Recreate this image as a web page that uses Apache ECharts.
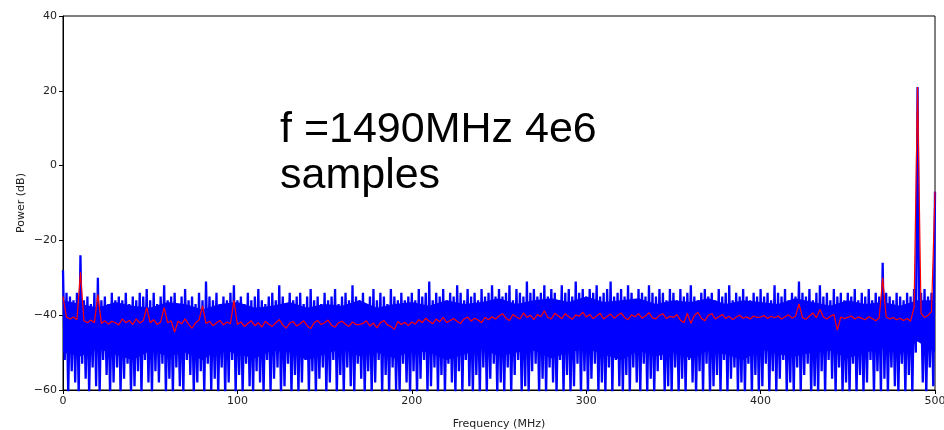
<!DOCTYPE html>
<html>
<head>
<meta charset="utf-8">
<script src="https://cdn.jsdelivr.net/npm/echarts@6/dist/echarts.min.js"></script>
<style>
  html, body { margin: 0; padding: 0; background: #fff; }
  #chart { width: 944px; height: 430px; }
</style>
</head>
<body>
<div id="chart"></div>
<script>
// spectrum, 2 MHz grid (0..500 MHz)
let step = 2;

// blue trace: peaks at even MHz
let bluePeaks = [
    -28,-34,-35,-36,-34,-24,-36,-35,-37,-34,-30,-36,-35,-37,-34,-36,-35,-36,-34,-37,-35,-36,-34,-35,-33,
    -36,-34,-37,-35,-32,-36,-35,-34,-37,-35,-33,-36,-35,-37,-34,-36,-31,-35,-36,-34,-37,-35,-36,-34,-32,
    -36,-35,-37,-34,-36,-35,-33,-36,-37,-35,-34,-36,-32,-35,-37,-34,-36,-35,-34,-37,-35,-33,-36,-35,-37,
    -34,-36,-35,-33,-37,-35,-34,-36,-32,-35,-36,-34,-37,-35,-33,-36,-34,-35,-37,-33,-35,-36,-34,-36,-35,
    -34,-36,-33,-35,-34,-31,-36,-34,-35,-33,-36,-34,-35,-32,-34,-36,-33,-35,-34,-36,-33,-35,-34,-32,-35,
    -33,-35,-34,-32,-36,-33,-34,-35,-31,-34,-33,-35,-34,-32,-35,-33,-34,-36,-32,-34,-33,-35,-31,-34,-33,
    -35,-33,-34,-32,-35,-34,-33,-31,-35,-34,-33,-35,-32,-34,-36,-33,-34,-35,-32,-34,-35,-33,-34,-36,-33,
    -34,-36,-33,-35,-34,-32,-35,-36,-34,-33,-35,-34,-36,-33,-35,-34,-32,-36,-34,-35,-33,-35,-36,-34,-35,
    -33,-35,-34,-36,-32,-34,-35,-33,-36,-34,-35,-31,-34,-35,-33,-36,-34,-32,-35,-34,-36,-33,-35,-34,-36,
    -34,-35,-33,-36,-34,-35,-33,-36,-34,-35,-26,-34,-35,-36,-34,-35,-36,-34,-35,-33,21,-34,-33,-35,-34,
    -7
];

// blue trace: dips at odd MHz
let blueDips = [
    -52,-61,-55,-58,-61,-53,-57,-61,-54,-59,-61,-52,-56,-61,-58,-54,-61,-57,-53,-61,-59,-55,-61,-52,-58,
    -61,-55,-58,-53,-61,-57,-61,-54,-59,-61,-52,-56,-61,-58,-55,-61,-53,-60,-57,-61,-54,-61,-58,-52,-61,
    -56,-61,-53,-59,-61,-55,-58,-61,-52,-61,-57,-54,-61,-59,-53,-61,-56,-61,-58,-52,-61,-55,-61,-57,-54,
    -61,-58,-52,-61,-56,-61,-54,-59,-61,-53,-57,-61,-55,-61,-58,-52,-61,-56,-61,-54,-60,-61,-53,-58,-61,
    -55,-61,-57,-52,-61,-59,-54,-61,-56,-61,-53,-58,-61,-55,-61,-52,-59,-61,-56,-61,-54,-61,-57,-53,-61,
    -58,-61,-54,-61,-56,-52,-61,-59,-61,-55,-53,-61,-57,-61,-54,-58,-61,-52,-61,-56,-61,-59,-53,-61,-55,
    -61,-57,-53,-61,-58,-61,-54,-61,-52,-59,-61,-56,-61,-54,-58,-61,-53,-61,-57,-61,-55,-52,-61,-59,-61,
    -54,-61,-57,-61,-52,-58,-61,-55,-61,-53,-61,-59,-56,-61,-52,-61,-57,-54,-61,-58,-61,-53,-61,-56,-61,
    -59,-53,-61,-55,-61,-57,-52,-61,-58,-61,-54,-61,-56,-53,-61,-59,-61,-55,-61,-52,-57,-61,-54,-61,-58,
    -61,-53,-61,-56,-61,-58,-52,-61,-55,-61,-57,-61,-54,-59,-61,-53,-61,-56,-61,-50,-45,-58,-61,-54,-59
];

// solid core of the blue band, every 10 MHz
let coreStep = 10;
let coreHigh = [
    -36,-37,-38,-36.5,-37.5,-38,-36.5,-37,-38.5,-37,
    -36.5,-38,-37.5,-36.5,-38,-37,-37.5,-36,-38,-37,
    -36.5,-37.5,-36,-37,-36.5,-35.5,-37,-36,-35.5,-36.5,
    -35,-36.5,-36,-35.5,-37,-36,-36.5,-35.5,-37,-36,
    -36.5,-37,-35.5,-36.5,-37.5,-36,-37,-36.5,-37.5,-36,
    -36
];
let coreLow = [
    -50,-51,-49,-50.5,-52,-49.5,-51,-50,-52,-49,
    -50.5,-51.5,-49.5,-50,-52,-50.5,-49,-51,-50,-51.5,
    -49.5,-50,-52,-50.5,-49,-51,-50,-49.5,-51.5,-50,
    -49,-50.5,-52,-49.5,-51,-50,-51.5,-49.5,-50.5,-52,
    -49,-50.5,-51,-50,-49.5,-51.5,-50,-49,-50.5,-47,
    -50
];

// red (averaged) trace, even MHz
let redTrace = [
    -35,-40.5,-41,-40.5,-41.2,-28.5,-41.5,-42,-41.3,-42,-34.5,-42.2,-41.5,-42.4,-41.6,-42,-42.6,-41,-42,-41.4,-42.5,-41,-42.1,-41.5,-38,
    -42,-41.2,-42.5,-41.8,-38,-42,-41.5,-44.5,-41.6,-42.3,-41,-42.4,-43.5,-42,-41.3,-37.5,-42.2,-41.6,-42.8,-42,-41.4,-42.6,-41.8,-42.3,-36,
    -42.5,-41.8,-43,-42.2,-41.5,-42.8,-42,-43.2,-41.6,-42.4,-43,-42,-41.2,-42.6,-43.5,-42.1,-41.7,-42.9,-42.3,-41.5,-42.8,-43.6,-42,-41.4,-42.5,
    -42,-41.3,-42.7,-43.2,-42,-41.6,-42.4,-43,-41.8,-42.5,-42.5,-42.2,-41.5,-42.9,-42.1,-43.4,-42,-41.4,-42.6,-43,-43.8,-41.7,-42.5,-41.9,-42.8,
    -41.8,-42.4,-41.2,-42,-40.8,-41.6,-42.3,-41,-41.8,-40.6,-42,-41.4,-40.9,-41.7,-42.2,-41,-40.5,-41.6,-40.8,-41.3,-42,-40.6,-41.2,-40.4,-41,
    -40.2,-39.6,-40.8,-41.4,-39.8,-40.5,-41,-39.4,-40.6,-40,-41.2,-39.8,-40.4,-38.8,-40.6,-41,-39.5,-40.2,-40.9,-39.6,-40.4,-41.1,-39.9,-40.3,-39.2,
    -40.5,-39.8,-40.9,-40.2,-39.5,-41,-40.3,-39.7,-40.8,-40.1,-39.4,-40.6,-41.2,-39.9,-40.4,-39.6,-40.8,-40.2,-39.3,-40.7,-41,-40,-39.6,-40.9,-40.3,
    -40.6,-39.8,-41.3,-42,-39.5,-42.2,-40.1,-39.2,-40.8,-41.5,-40,-39.6,-41,-40.4,-39.8,-40.9,-40.3,-41.2,-40.5,-40,-40.8,-40.4,-41,-40.2,-40.6,
    -40.5,-40.1,-40.9,-40.3,-40.7,-40.2,-41,-40.4,-39.9,-40.8,-40.3,-37,-40.6,-41.1,-40.2,-39.4,-40.7,-38.5,-40.5,-41,-40.3,-39.8,-44,-40.5,-40.9,
    -40.6,-40.2,-41,-40.5,-40.8,-41.2,-40.4,-40.9,-41.5,-40.7,-30,-40.5,-41,-40.6,-41.2,-40.8,-41.4,-40.9,-41.6,-38,21,-39.5,-40.6,-40.1,-39,
    -7
];

let annotation = 'f =1490MHz 4e6\nsamples';

let blueLine = [];
bluePeaks.forEach((v, i) => {
    blueLine.push([i * step, v]);
    if (i < blueDips.length) blueLine.push([i * step + 1, blueDips[i]]);
});
let redLine = redTrace.map((v, i) => [i * step, v]);
let coreData = coreHigh.map((h, i) => [i * coreStep, coreLow[i], h]);

// matplotlib draws a real minus sign
let minusFmt = (v) => String(v).replace('-', '\u2212');
let tickFont = { color: '#222', fontSize: 11, fontFamily: 'DejaVu Sans' };

let chart = echarts.init(document.getElementById('chart'), null, { renderer: 'canvas' });
chart.setOption({
    animation: false,
    backgroundColor: '#fff',
    grid: {
        left: 63, right: 9, top: 16, bottom: 40,
        containLabel: false, outerBoundsMode: 'none',
        show: true, borderColor: '#000', borderWidth: 1
    },
    xAxis: {
        type: 'value', min: 0, max: 500, interval: 100,
        name: 'Frequency (MHz)', nameLocation: 'middle', nameGap: 29,
        nameTextStyle: tickFont, nameMoveOverlap: false,
        axisLine: { show: true, onZero: false, lineStyle: { color: '#000' } },
        axisTick: { show: true, length: 4, lineStyle: { color: '#000' } },
        axisLabel: Object.assign({ margin: 6, formatter: minusFmt }, tickFont),
        splitLine: { show: false }
    },
    yAxis: {
        type: 'value', min: -60, max: 40, interval: 20,
        name: 'Power (dB)', nameLocation: 'middle', nameGap: 36,
        nameTextStyle: tickFont, nameMoveOverlap: false,
        axisLine: { show: true, onZero: false, lineStyle: { color: '#000' } },
        axisTick: { show: true, length: 4, lineStyle: { color: '#000' } },
        axisLabel: Object.assign({ margin: 6, formatter: minusFmt }, tickFont),
        splitLine: { show: false }
    },
    series: [
        {
            type: 'custom', data: coreData, silent: true, clip: true,
            renderItem: (params, api) => {
                if (params.dataIndex !== 0) return;
                let top = coreData.map((d) => api.coord([d[0], d[2]]));
                let bottom = coreData.map((d) => api.coord([d[0], d[1]])).reverse();
                return {
                    type: 'polygon',
                    shape: { points: top.concat(bottom) },
                    style: { fill: '#0000ff' }
                };
            }
        },
        {
            type: 'line', data: blueLine, symbol: 'none', sampling: null,
            lineStyle: { color: '#0000ff', width: 2.3 }, clip: true
        },
        {
            type: 'line', data: redLine, symbol: 'none',
            lineStyle: { color: '#ff0000', width: 1.2 }, clip: true
        }
    ],
    graphic: [{
        type: 'text', left: 280, top: 107,
        style: {
            text: annotation, fill: '#000',
            font: '43px "Liberation Sans", Arial, sans-serif',
            lineHeight: 46
        }
    }]
});
</script>
</body>
</html>
